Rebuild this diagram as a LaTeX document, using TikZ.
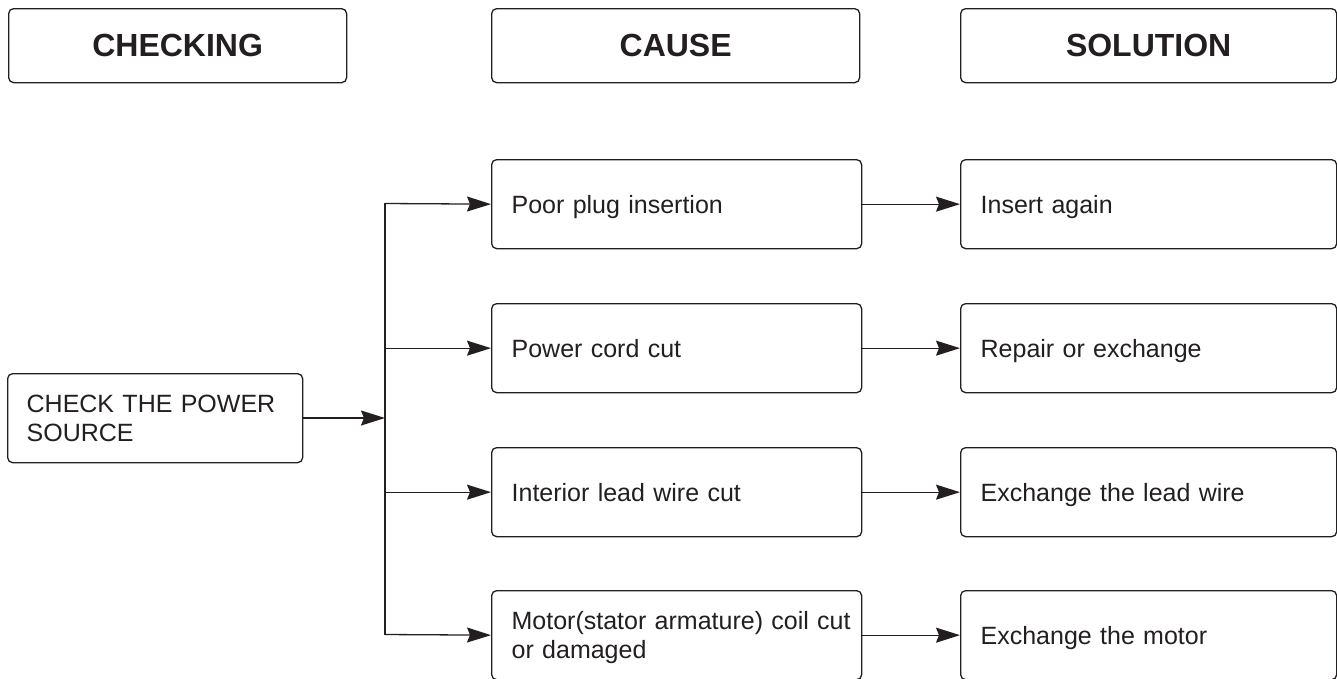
\documentclass[tikz,border=0pt]{standalone}
\usepackage{fontspec}
\setmainfont{Liberation Sans}
\usetikzlibrary{arrows.meta}
\definecolor{ink}{HTML}{231F20}
\tikzset{
  basebox/.style={draw=ink, line width=1.3pt, rounded corners=5pt, anchor=north west, text=ink, inner sep=0pt},
  headbox/.style={basebox, minimum height=74pt, align=center, font=\fontsize{32}{38}\selectfont\bfseries},
  itembox/.style={basebox, minimum height=89pt, inner xsep=20pt, align=left, font=\fontsize{25}{29}\selectfont, text height=18pt, text depth=0pt},
  twoline/.style={text height=18pt, text depth=29pt},
  causebox/.style={itembox, text width=330pt},
  solbox/.style={itembox, text width=336pt},
  conn/.style={draw=ink, line width=1.3pt},
  arr/.style={conn, -{Stealth[length=24pt, width=15pt, inset=3pt]}}
}
\begin{document}
\begin{tikzpicture}[x=1pt, y=-1pt]
\useasboundingbox (0,0) rectangle (1337,678);
\fill[white] (0,0) rectangle (1337,678);
% headers
\node[headbox, minimum width=338pt] (hcheck) at (8,8) {CHECKING};
\node[headbox, minimum width=368pt] (hcause) at (491,8) {CAUSE};
\node[headbox, minimum width=376pt] (hsol) at (960,8) {SOLUTION};
% check box
\node[itembox, twoline, text width=257pt, inner xsep=19pt] (check) at (7,373) {CHECK THE POWER\\SOURCE};
% cause boxes
\node[causebox] (c1) at (491,159) {Poor plug insertion};
\node[causebox] (c2) at (491,303) {Power cord cut};
\node[causebox] (c3) at (491,447) {Interior lead wire cut};
\node[causebox, twoline] (c4) at (491,590) {\mbox{Motor(stator armature) coil cut}\\or damaged};
% solution boxes
\node[solbox] (s1) at (960,159) {Insert again};
\node[solbox] (s2) at (960,303) {Repair or exchange};
\node[solbox] (s3) at (960,447) {Exchange the lead wire};
\node[solbox] (s4) at (960,590) {Exchange the motor};
% junction
\coordinate (jt) at (385,203.5);
\coordinate (jb) at (385,634.5);
\coordinate (jm) at (385,418);
\draw[conn, line cap=rect] (jt) -- (jb);
\draw[arr] (check.east |- jm) -- (jm);
\draw[arr] (jt) -- (c1.west);
\draw[arr] (jt |- c2.west) -- (c2.west);
\draw[arr] (jt |- c3.west) -- (c3.west);
\draw[arr] (jb) -- (c4.west);
% cause to solution
\draw[arr] (c1.east) -- (s1.west);
\draw[arr] (c2.east) -- (s2.west);
\draw[arr] (c3.east) -- (s3.west);
\draw[arr] (c4.east) -- (s4.west);
\end{tikzpicture}
\end{document}
